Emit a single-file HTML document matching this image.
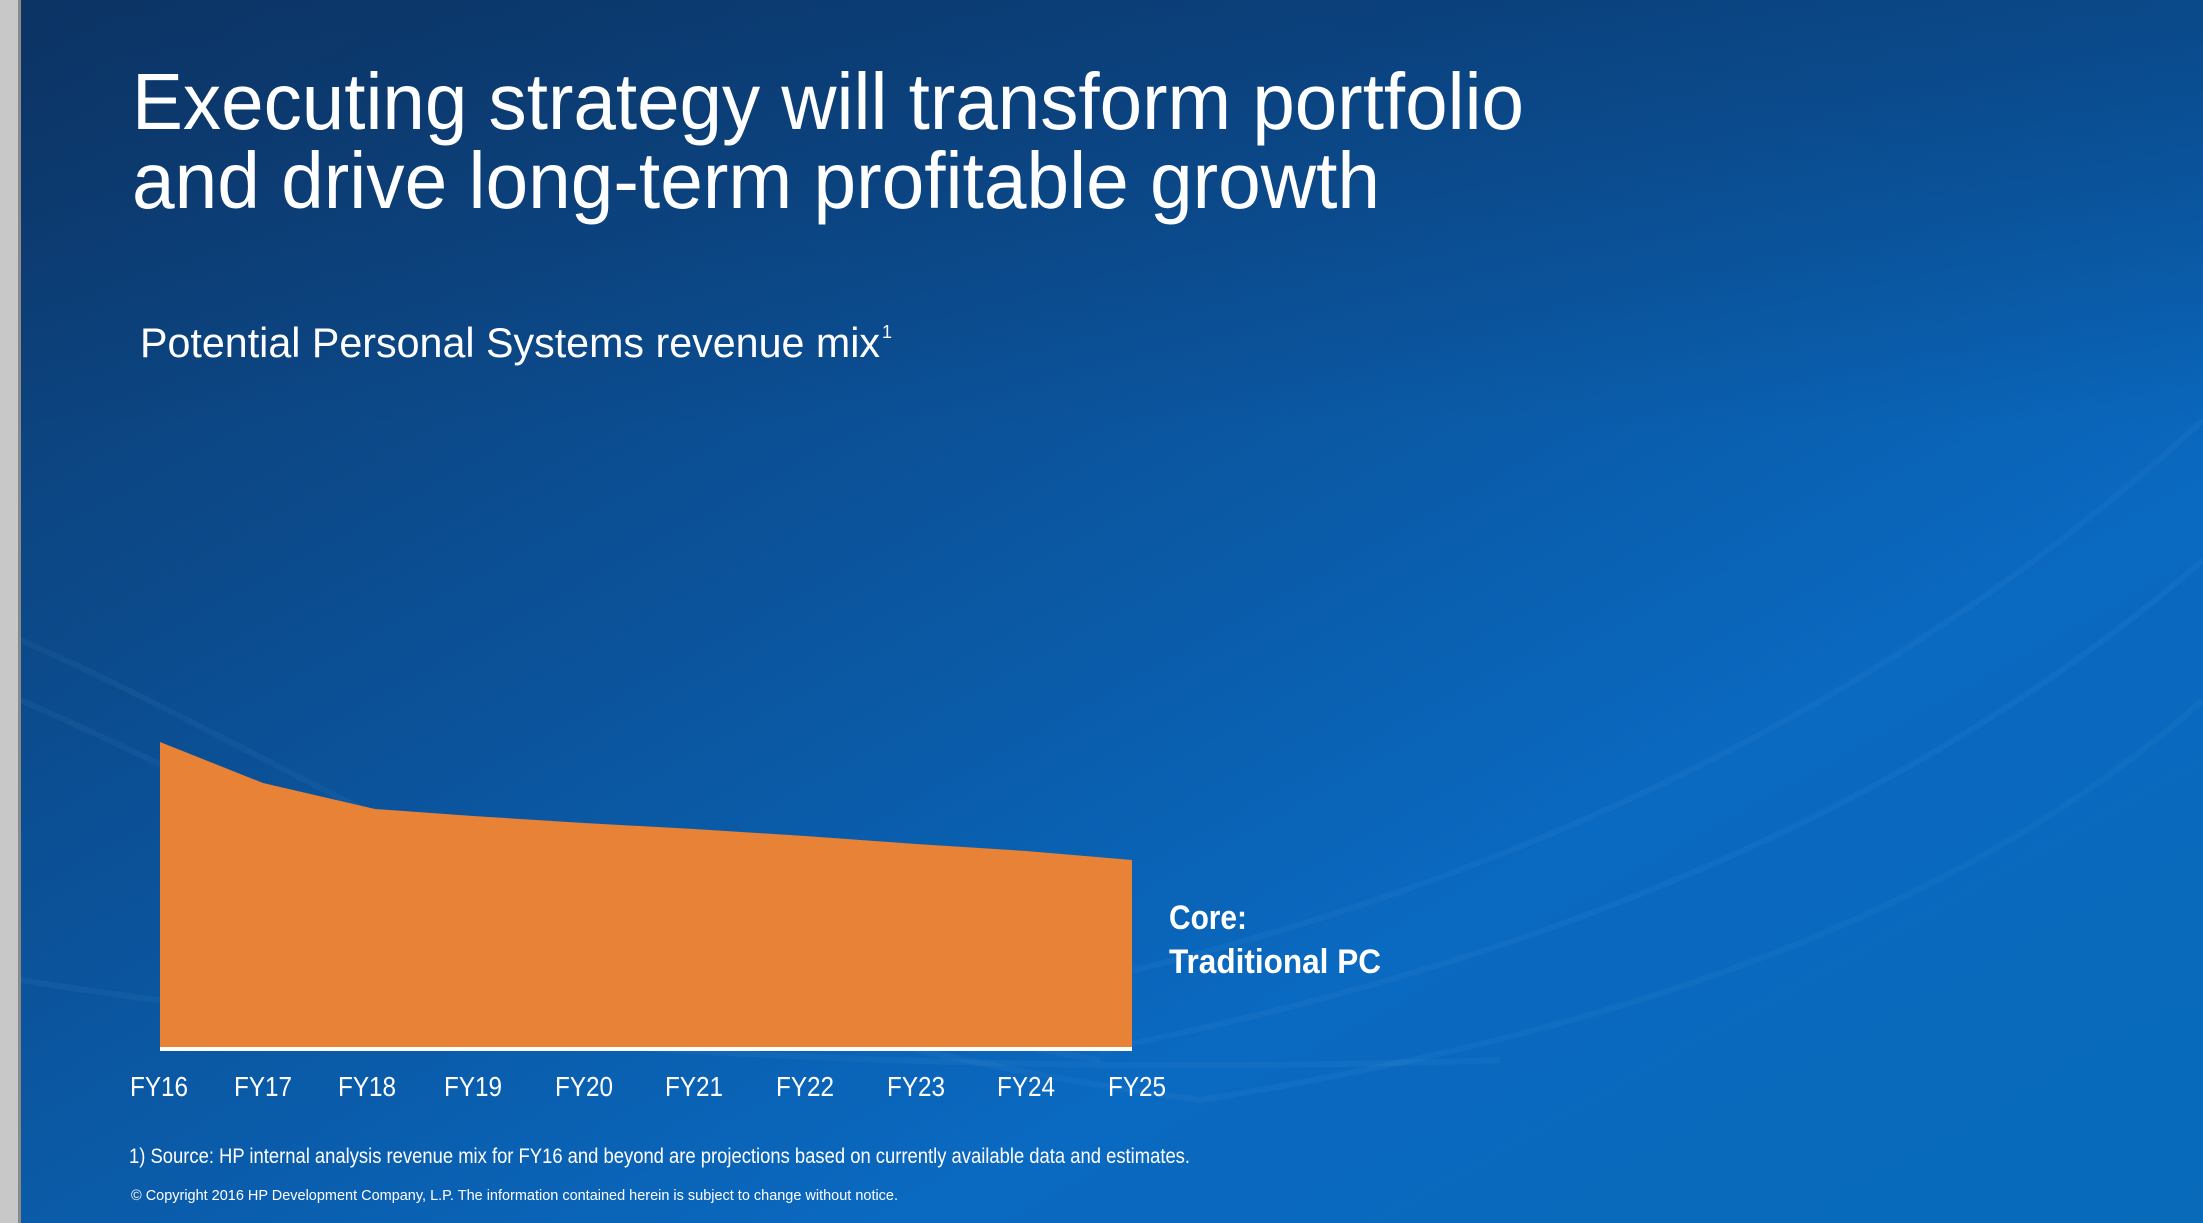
<!DOCTYPE html>
<html><head><meta charset="utf-8"><style>
html,body{margin:0;padding:0;width:2203px;height:1223px;overflow:hidden;background:#0a5aa8}
svg{display:block}
text{font-family:"Liberation Sans",sans-serif;fill:#fff}
</style></head><body>
<svg width="2203" height="1223" viewBox="0 0 2203 1223" xmlns="http://www.w3.org/2000/svg">
<defs>
<linearGradient id="bg" x1="0" y1="0" x2="1" y2="1">
<stop offset="0" stop-color="#0d3769"/>
<stop offset="0.35" stop-color="#0b4f94"/>
<stop offset="0.7" stop-color="#0a69c0"/>
<stop offset="1" stop-color="#086ab9"/>
</linearGradient>
<linearGradient id="bg2" x1="0" y1="0" x2="0" y2="1">
<stop offset="0" stop-color="#0a2e5c" stop-opacity="0.4"/>
<stop offset="0.35" stop-color="#0a2e5c" stop-opacity="0"/>
</linearGradient>
</defs>
<rect width="2203" height="1223" fill="url(#bg)"/>
<rect width="2203" height="1223" fill="url(#bg2)"/>
<g fill="none" stroke="#9fd0ff" stroke-opacity="0.05" stroke-width="6">
<path d="M20 640 C300 760 600 980 1100 1060"/>
<path d="M20 700 C300 820 600 1020 1200 1100"/>
<path d="M20 980 C400 1040 900 1080 1500 1060"/>
<path d="M1000 1000 C1500 900 1900 700 2203 420"/>
<path d="M1100 1050 C1600 950 1950 780 2203 560"/>
<path d="M1200 1100 C1700 1020 2000 880 2203 700"/>
</g>
<rect x="0" y="0" width="20" height="1223" fill="#c8c8c8"/>
<rect x="18" y="0" width="3" height="1223" fill="#8a8a8a"/>
<text x="132" y="129" font-size="80" textLength="1392" lengthAdjust="spacingAndGlyphs">Executing strategy will transform portfolio</text>
<text x="132" y="208" font-size="80" textLength="1248" lengthAdjust="spacingAndGlyphs">and drive long-term profitable growth</text>
<text x="140" y="357" font-size="42" textLength="740" lengthAdjust="spacingAndGlyphs">Potential Personal Systems revenue mix</text>
<text x="882" y="338" font-size="18">1</text>
<polygon fill="#e78236" points="160,742 263,783 375,809 473,816 584,823 694,829 805,836 916,844 1026,851 1132,860 1132,1049 160,1049"/>
<rect x="160" y="1047" width="972" height="4" fill="#fff"/>
<g font-size="28" text-anchor="middle">
<text x="159" y="1096" textLength="58" lengthAdjust="spacingAndGlyphs">FY16</text>
<text x="263" y="1096" textLength="58" lengthAdjust="spacingAndGlyphs">FY17</text>
<text x="367" y="1096" textLength="58" lengthAdjust="spacingAndGlyphs">FY18</text>
<text x="473" y="1096" textLength="58" lengthAdjust="spacingAndGlyphs">FY19</text>
<text x="584" y="1096" textLength="58" lengthAdjust="spacingAndGlyphs">FY20</text>
<text x="694" y="1096" textLength="58" lengthAdjust="spacingAndGlyphs">FY21</text>
<text x="805" y="1096" textLength="58" lengthAdjust="spacingAndGlyphs">FY22</text>
<text x="916" y="1096" textLength="58" lengthAdjust="spacingAndGlyphs">FY23</text>
<text x="1026" y="1096" textLength="58" lengthAdjust="spacingAndGlyphs">FY24</text>
<text x="1137" y="1096" textLength="58" lengthAdjust="spacingAndGlyphs">FY25</text>
</g>
<text x="1169" y="929" font-size="34" font-weight="bold" textLength="78" lengthAdjust="spacingAndGlyphs">Core:</text>
<text x="1169" y="973" font-size="34" font-weight="bold" textLength="212" lengthAdjust="spacingAndGlyphs">Traditional PC</text>
<text x="129" y="1163" font-size="21" textLength="1061" lengthAdjust="spacingAndGlyphs">1) Source: HP internal analysis revenue mix for FY16 and beyond are projections based on currently available data and estimates.</text>
<text x="131" y="1200" font-size="15" textLength="767" lengthAdjust="spacingAndGlyphs">© Copyright 2016 HP Development Company, L.P. The information contained herein is subject to change without notice.</text>
</svg>
</body></html>
